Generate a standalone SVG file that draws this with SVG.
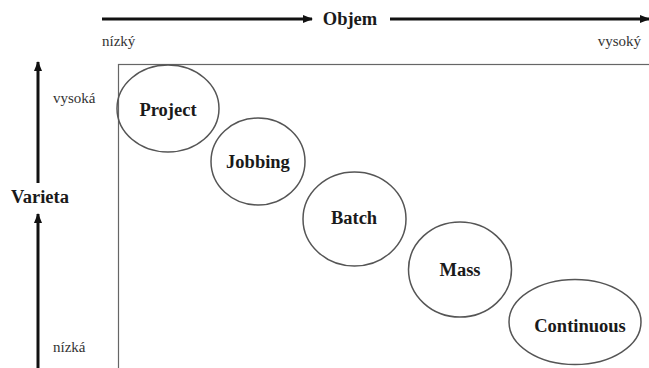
<svg xmlns="http://www.w3.org/2000/svg" width="649" height="368" viewBox="0 0 649 368" font-family="Liberation Serif, Times New Roman, Times, FreeSerif, Noto Serif, DejaVu Serif, serif">
<style>
text{font-family:"Liberation Serif","Times New Roman",Times,FreeSerif,"Noto Serif","DejaVu Serif",serif}
.lbl{font-weight:bold;font-size:18.5px;fill:#1a1a1a;text-anchor:middle}
.sm{font-size:15px;fill:#333}
.ell{fill:none;stroke:#555;stroke-width:1.5}
.ax{stroke:#111;stroke-width:3;fill:none}
</style>
<defs>
<marker id="ah" viewBox="0 0 10 8" refX="9" refY="4" markerWidth="10" markerHeight="8" markerUnits="userSpaceOnUse" orient="auto">
<path d="M0,0 L10,4 L0,8 Z" fill="#111"/>
</marker>
</defs>
<rect x="118.5" y="64.5" width="540" height="320" fill="none" stroke="#666" stroke-width="1.2"/>
<g id="axes">
<line class="ax" x1="102" y1="19" x2="312" y2="19" marker-end="url(#ah)"/>
<line class="ax" x1="390" y1="19" x2="649" y2="19" marker-end="url(#ah)"/>
<line class="ax" x1="38" y1="183" x2="38" y2="62" marker-end="url(#ah)"/>
<line class="ax" x1="38" y1="368" x2="38" y2="214" marker-end="url(#ah)"/>
</g>
<text class="lbl" x="350" y="25">Objem</text>
<text class="sm" x="102" y="46">nízký</text>
<text class="sm" x="641" y="46" text-anchor="end">vysoký</text>
<text class="lbl" x="40" y="203">Varieta</text>
<text class="sm" x="53" y="103">vysoká</text>
<text class="sm" x="53" y="352">nízká</text>
<g id="project"><ellipse class="ell" cx="168" cy="108.5" rx="51" ry="43.5"/><text class="lbl" x="168" y="116">Project</text></g>
<g id="jobbing"><ellipse class="ell" cx="258" cy="161.5" rx="47" ry="43.5"/><text class="lbl" x="258" y="168">Jobbing</text></g>
<g id="batch"><ellipse class="ell" cx="354.5" cy="219" rx="51.5" ry="47"/><text class="lbl" x="354" y="224">Batch</text></g>
<g id="mass"><ellipse class="ell" cx="460" cy="269.5" rx="51.5" ry="47.5"/><text class="lbl" x="460" y="276">Mass</text></g>
<g id="continuous"><ellipse class="ell" cx="575" cy="322" rx="66" ry="42.5"/><text class="lbl" x="580" y="332">Continuous</text></g>
</svg>
